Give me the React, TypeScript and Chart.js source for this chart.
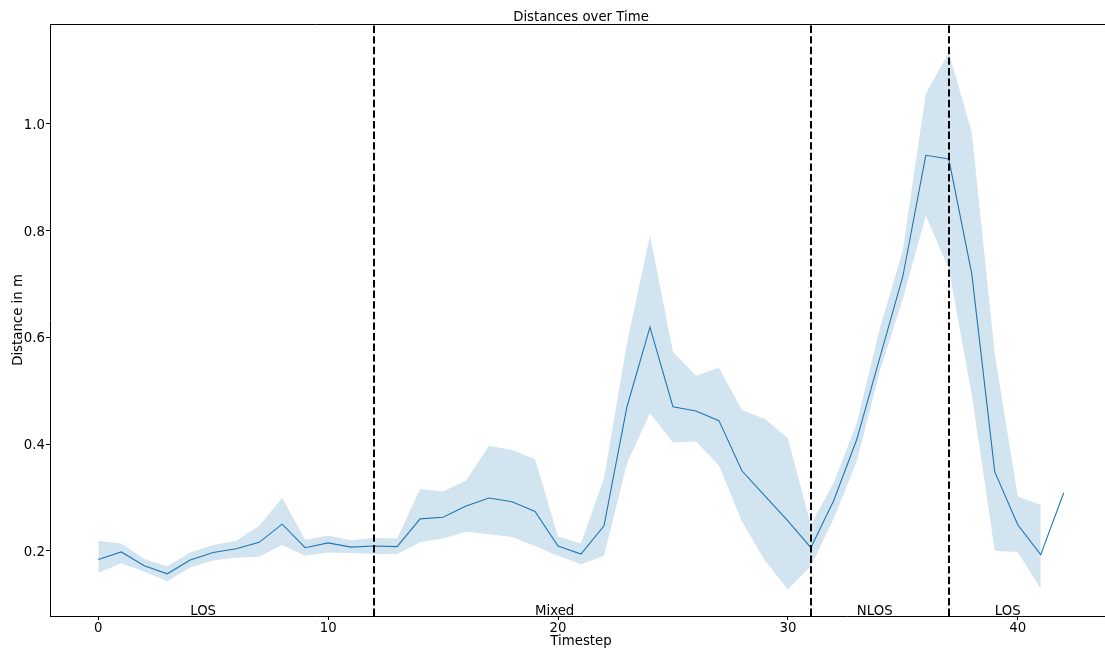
import { useEffect, useRef } from 'react';
import { Chart, registerables } from 'chart.js';

Chart.register(...registerables);

// Timesteps and measured distances (mean with upper/lower spread)
const timesteps = [
  0, 1, 2, 3, 4, 5, 6, 7, 8, 9, 10, 11, 12, 13, 14, 15, 16, 17, 18, 19, 20,
  21, 22, 23, 24, 25, 26, 27, 28, 29, 30, 31, 32, 33, 34, 35, 36, 37, 38, 39,
  40, 41, 42,
];

const meanDistance = [
  0.184, 0.198, 0.172, 0.157, 0.183, 0.197, 0.204, 0.216, 0.25, 0.206, 0.215,
  0.207, 0.209, 0.208, 0.26, 0.263, 0.284, 0.299, 0.292, 0.274, 0.209, 0.194,
  0.247, 0.47, 0.619, 0.47, 0.462, 0.444, 0.35, 0.303, 0.256, 0.206, 0.295,
  0.409, 0.562, 0.714, 0.941, 0.934, 0.719, 0.348, 0.249, 0.193, 0.309,
];

const upperBand = [
  0.219, 0.214, 0.185, 0.171, 0.197, 0.211, 0.219, 0.247, 0.299, 0.221, 0.229,
  0.22, 0.224, 0.223, 0.316, 0.311, 0.332, 0.397, 0.389, 0.372, 0.227, 0.214,
  0.336, 0.589, 0.791, 0.573, 0.528, 0.543, 0.464, 0.447, 0.411, 0.249, 0.328,
  0.44, 0.617, 0.763, 1.057, 1.133, 0.984, 0.569, 0.302, 0.286,
];

const lowerBand = [
  0.159, 0.177, 0.161, 0.143, 0.169, 0.182, 0.187, 0.189, 0.211, 0.191, 0.197,
  0.196, 0.194, 0.194, 0.216, 0.223, 0.236, 0.231, 0.226, 0.209, 0.191, 0.175,
  0.191, 0.364, 0.458, 0.403, 0.405, 0.36, 0.255, 0.182, 0.128, 0.171, 0.261,
  0.368, 0.537, 0.672, 0.828, 0.728, 0.492, 0.2, 0.198, 0.129,
];

const xTickValues = [0, 10, 20, 30, 40];
const yTickValues = [0.2, 0.4, 0.6, 0.8, 1.0];

// Phase changes and the phase names written along the bottom
const phaseBoundaries = [12, 31, 37];
const phaseNames = ['LOS', 'Mixed', 'NLOS', 'LOS'];
const phaseLabelX = [4, 19, 33, 39];

const FONT_FAMILY = "'DejaVu Sans', sans-serif";
const FONT_SIZE = 13.3;
const LINE_BLUE = '#1f77b4';
const BAND_BLUE = 'rgba(31, 119, 180, 0.2)';

const decorations = {
  id: 'decorations',
  afterDatasetsDraw(chart: any) {
    const { ctx, chartArea, scales } = chart;
    const { left, right, top, bottom } = chartArea;
    ctx.save();

    // dashed phase boundaries
    ctx.strokeStyle = '#000';
    ctx.lineWidth = 2;
    ctx.setLineDash([7.4, 3.2]);
    for (const b of phaseBoundaries) {
      const x = Math.round(scales.x.getPixelForValue(b));
      ctx.beginPath();
      ctx.moveTo(x, bottom);
      ctx.lineTo(x, top);
      ctx.stroke();
    }
    ctx.setLineDash([]);

    // top and right frame
    ctx.lineWidth = 1;
    ctx.beginPath();
    ctx.moveTo(left, top + 0.5);
    ctx.lineTo(right + 0.5, top + 0.5);
    ctx.lineTo(right + 0.5, bottom);
    ctx.stroke();

    // phase names
    ctx.fillStyle = '#000';
    ctx.font = `${FONT_SIZE}px ${FONT_FAMILY}`;
    ctx.textAlign = 'left';
    ctx.textBaseline = 'alphabetic';
    phaseNames.forEach((name, i) => {
      ctx.fillText(name, scales.x.getPixelForValue(phaseLabelX[i]), bottom - 1.5);
    });

    // title
    ctx.textAlign = 'center';
    ctx.fillText('Distances over Time', (left + right) / 2, top - 3.5);

    ctx.restore();
  },
};

export default function App() {
  const canvasRef = useRef<HTMLCanvasElement | null>(null);

  useEffect(() => {
    if (!canvasRef.current) return;

    const meanPoints = timesteps.map((t, i) => ({ x: t, y: meanDistance[i] }));
    const upperPoints = upperBand.map((v, i) => ({ x: timesteps[i], y: v }));
    const lowerPoints = lowerBand.map((v, i) => ({ x: timesteps[i], y: v }));

    const tickFont = { family: FONT_FAMILY, size: FONT_SIZE };

    const chart = new Chart(canvasRef.current, {
      type: 'line',
      data: {
        datasets: [
          {
            label: 'mean',
            data: meanPoints,
            borderColor: LINE_BLUE,
            borderWidth: 1.1,
            pointRadius: 0,
            tension: 0,
            fill: false,
            order: 0,
          },
          {
            label: 'upper',
            data: upperPoints,
            borderWidth: 0,
            borderColor: 'rgba(0,0,0,0)',
            backgroundColor: BAND_BLUE,
            pointRadius: 0,
            tension: 0,
            fill: '+1',
            order: 1,
          },
          {
            label: 'lower',
            data: lowerPoints,
            borderWidth: 0,
            borderColor: 'rgba(0,0,0,0)',
            backgroundColor: BAND_BLUE,
            pointRadius: 0,
            tension: 0,
            fill: false,
            order: 2,
          },
        ],
      },
      options: {
        animation: false,
        responsive: true,
        maintainAspectRatio: false,
        layout: { padding: { top: 24, right: 8, left: 0, bottom: 0 } },
        plugins: {
          legend: { display: false },
          tooltip: { enabled: false },
          title: { display: false },
        },
        events: [],
        scales: {
          x: {
            type: 'linear',
            min: -2.1,
            max: 44.1,
            afterBuildTicks: (scale: any) => {
              scale.ticks = xTickValues.map((v) => ({ value: v }));
            },
            afterFit: (scale: any) => {
              scale.height = 32;
            },
            grid: {
              display: true,
              drawOnChartArea: false,
              drawTicks: true,
              tickLength: 4,
              tickColor: '#000',
              tickWidth: 1,
            },
            border: { display: true, color: '#000', width: 1 },
            ticks: {
              color: '#000',
              font: tickFont,
              padding: 1,
              maxRotation: 0,
              callback: (v: any) => String(v),
            },
            title: {
              display: true,
              text: 'Timestep',
              color: '#000',
              font: { family: FONT_FAMILY, size: FONT_SIZE, lineHeight: 1.0 },
              padding: { top: 0, bottom: 0 },
            },
          },
          y: {
            type: 'linear',
            min: 0.078,
            max: 1.187,
            afterBuildTicks: (scale: any) => {
              scale.ticks = yTickValues.map((v) => ({ value: v }));
            },
            afterFit: (scale: any) => {
              scale.width = 50;
            },
            grid: {
              display: true,
              drawOnChartArea: false,
              drawTicks: true,
              tickLength: 4,
              tickColor: '#000',
              tickWidth: 1,
            },
            border: { display: true, color: '#000', width: 1 },
            ticks: {
              color: '#000',
              font: tickFont,
              padding: 1,
              labelOffset: 1.5,
              callback: (v: any) => Number(v).toFixed(1),
            },
            title: {
              display: true,
              text: 'Distance in m',
              color: '#000',
              font: tickFont,
              padding: { top: 10.5, bottom: 0 },
            },
          },
        },
      },
      plugins: [decorations],
    });

    return () => chart.destroy();
  }, []);

  return (
    <div
      style={{
        position: 'fixed',
        left: 0,
        top: 0,
        width: 1105,
        height: 648,
        overflow: 'hidden',
        background: '#fff',
      }}
    >
      <div style={{ position: 'relative', width: 1120, height: 648 }}>
        <canvas ref={canvasRef} />
      </div>
    </div>
  );
}
